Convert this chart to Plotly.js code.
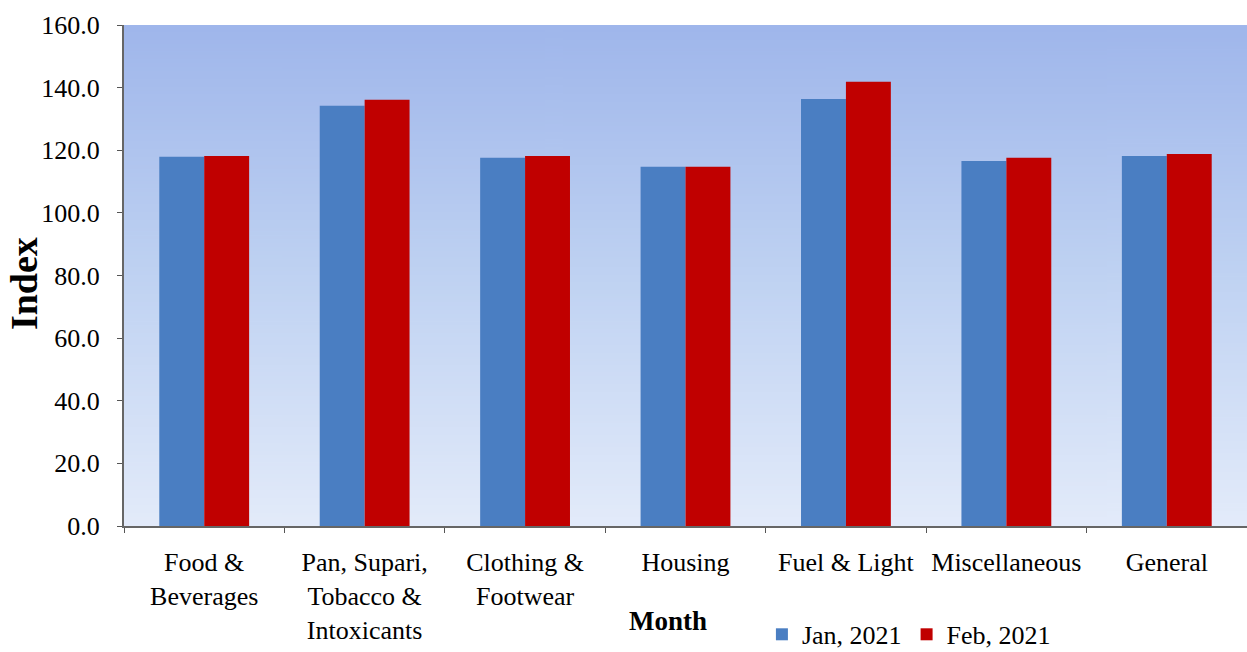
<!DOCTYPE html>
<html>
<head>
<meta charset="utf-8">
<script src="https://cdn.plot.ly/plotly-3.0.1.min.js"></script>
<style>html,body{margin:0;padding:0;background:#fff;}#chart{width:1247px;height:652px;}</style>
</head>
<body>
<div id="chart"></div>
<script>
const categories = ["Food &<br>Beverages", "Pan, Supari,<br>Tobacco &<br>Intoxicants", "Clothing &<br>Footwear", "Housing", "Fuel & Light", "Miscellaneous", "General"];
const jan2021 = [117.9, 134.2, 117.6, 114.7, 136.4, 116.6, 118.2];
const feb2021 = [118.2, 136.1, 118.2, 114.7, 141.9, 117.6, 118.8];
const yTicks = [0, 20, 40, 60, 80, 100, 120, 140, 160];
const seriesNames = ["Jan, 2021", "Feb, 2021"];

function gradientURL() {
  const c = document.createElement('canvas');
  c.width = 4; c.height = 256;
  const g = c.getContext('2d');
  const gr = g.createLinearGradient(0, 0, 0, 256);
  gr.addColorStop(0, '#9fb6eb');
  gr.addColorStop(0.5, '#bfd2f2');
  gr.addColorStop(1, '#e3ebfa');
  g.fillStyle = gr;
  g.fillRect(0, 0, 4, 256);
  return c.toDataURL();
}

const font = "Liberation Serif, Times New Roman, serif";

const data = [
  {type: 'bar', x: categories, y: jan2021, name: seriesNames[0], marker: {color: '#4a7ec2'}},
  {type: 'bar', x: categories, y: feb2021, name: seriesNames[1], marker: {color: '#c00000'}}
];

const layout = {
  width: 1247, height: 652,
  margin: {l: 124, r: 0, t: 25, b: 126},
  paper_bgcolor: '#ffffff',
  plot_bgcolor: 'rgba(0,0,0,0)',
  barmode: 'group',
  bargap: 0.44,
  bargroupgap: 0,
  font: {family: font, size: 24, color: '#000'},
  showlegend: true,
  legend: {orientation: 'h', xref: 'container', yref: 'container', x: 0.611, xanchor: 'left',
           y: 0.027, yanchor: 'middle',
           font: {family: font, size: 26}, itemwidth: 30, tracegroupgap: 0, bgcolor: 'rgba(0,0,0,0)'},
  xaxis: {
    type: 'category', showgrid: false, showline: true, linecolor: '#666', linewidth: 2,
    ticks: 'outside', tickson: 'boundaries', ticklen: 5, tickcolor: '#555',
    tickfont: {family: font, size: 26}, automargin: false, ticklabelstandoff: 12
  },
  yaxis: {
    range: [0, 160], tickvals: yTicks, tickformat: '.1f', showgrid: false, zeroline: false,
    showline: true, linecolor: '#666', linewidth: 2, ticks: 'outside', ticklen: 5, tickcolor: '#555',
    tickfont: {family: font, size: 26}, automargin: false, ticklabelstandoff: 12
  },
  images: [{source: gradientURL(), xref: 'paper', yref: 'paper', x: 0, y: 1, sizex: 1, sizey: 1,
            sizing: 'stretch', layer: 'below', xanchor: 'left', yanchor: 'top'}],
  annotations: [
    {text: '<b>Index</b>', xref: 'paper', yref: 'paper', x: -0.089, y: 0.483, textangle: -90,
     xanchor: 'center', yanchor: 'middle',
     showarrow: false, font: {family: font, size: 38}},
    {text: '<b>Month</b>', xref: 'paper', yref: 'paper', x: 0.484, y: -0.19,
     xanchor: 'center', yanchor: 'middle',
     showarrow: false, font: {family: font, size: 27}}
  ]
};

Plotly.newPlot('chart', data, layout, {displayModeBar: false, staticPlot: true});
</script>
</body>
</html>
